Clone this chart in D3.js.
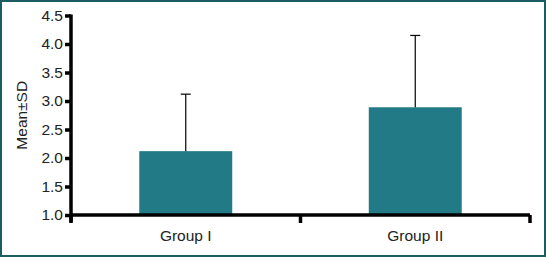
<!DOCTYPE html>
<html>
<head>
<meta charset="utf-8">
<script src="https://cdn.jsdelivr.net/npm/d3@7"></script>
<style>
  html, body { margin: 0; padding: 0; background: #fff; }
  svg { display: block; }
</style>
</head>
<body>
<svg id="chart" width="546" height="257"></svg>
<script>
// chart values
const groups = ["Group I", "Group II"];
const means = [2.12, 2.89];
const sds = [1.0, 1.26];
const yTicks = [1.0, 1.5, 2.0, 2.5, 3.0, 3.5, 4.0, 4.5];

const width = 546, height = 257;
const margin = { left: 71, right: 16, top: 15.5, bottom: 42 };
const font = "Arial, 'Liberation Sans', sans-serif";

const svg = d3.select("#chart");

// outer frame
svg.append("rect")
  .attr("x", 1).attr("y", 1)
  .attr("width", width - 2).attr("height", height - 2)
  .attr("fill", "#fff")
  .attr("stroke", "#1b5d62")
  .attr("stroke-width", 2);

const x = d3.scaleBand()
  .domain(groups)
  .range([margin.left, width - margin.right]);

const y = d3.scaleLinear()
  .domain([1, 4.5])
  .range([height - margin.bottom, margin.top]);

const barW = x.bandwidth() * 0.405;
const cx = d => x(d) + x.bandwidth() / 2;

// bars
svg.append("g").selectAll("rect")
  .data(groups)
  .join("rect")
  .attr("x", d => cx(d) - barW / 2)
  .attr("y", (d, i) => y(means[i]))
  .attr("width", barW)
  .attr("height", (d, i) => y(1) - y(means[i]))
  .attr("fill", "#217a85");

// error bars (upper only)
const err = svg.append("g").attr("stroke", "#000").attr("stroke-width", 1.2);
groups.forEach((g, i) => {
  err.append("line")
    .attr("x1", cx(g)).attr("x2", cx(g))
    .attr("y1", y(means[i])).attr("y2", y(means[i] + sds[i]));
  err.append("line")
    .attr("x1", cx(g) - 5).attr("x2", cx(g) + 5)
    .attr("y1", y(means[i] + sds[i])).attr("y2", y(means[i] + sds[i]));
});

// y axis
const yAxis = svg.append("g")
  .attr("transform", `translate(${margin.left},0)`)
  .call(d3.axisLeft(y).tickValues(yTicks).tickFormat(d3.format(".1f")).tickSize(6).tickPadding(2));
yAxis.select(".domain").remove();
yAxis.append("line")
  .attr("x1", 0).attr("x2", 0)
  .attr("y1", y(4.5) - 1).attr("y2", y(1) + 7)
  .attr("stroke", "#000").attr("stroke-width", 3.5);
yAxis.selectAll(".tick line").attr("stroke", "#000").attr("stroke-width", 3.5);
yAxis.selectAll(".tick text")
  .attr("fill", "#222")
  .style("font-family", font)
  .style("font-size", "15.5px");

// x axis
const xAxis = svg.append("g")
  .attr("transform", `translate(0,${y(1)})`);
xAxis.append("line")
  .attr("x1", margin.left).attr("x2", width - margin.right)
  .attr("stroke", "#000").attr("stroke-width", 3.5);
const xEdges = [x.range()[0], x(groups[1]), x.range()[1]];
xAxis.selectAll("line.tk")
  .data(xEdges)
  .join("line")
  .attr("class", "tk")
  .attr("x1", d => d).attr("x2", d => d)
  .attr("y1", 0).attr("y2", 8)
  .attr("stroke", "#000").attr("stroke-width", 3.5);
xAxis.selectAll("text")
  .data(groups)
  .join("text")
  .attr("x", d => cx(d))
  .attr("y", 26)
  .attr("text-anchor", "middle")
  .attr("fill", "#222")
  .style("font-family", font)
  .style("font-size", "15.5px")
  .text(d => d);

// y label
svg.append("text")
  .attr("transform", `translate(27,${(y(1) + y(4.5)) / 2}) rotate(-90)`)
  .attr("text-anchor", "middle")
  .attr("fill", "#222")
  .style("font-family", font)
  .style("font-size", "15.5px")
  .text("Mean±SD");
</script>
</body>
</html>
